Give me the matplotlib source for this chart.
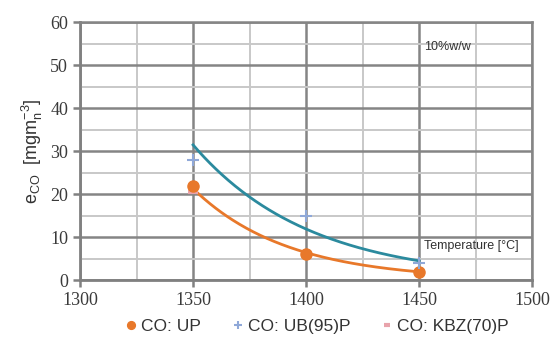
import matplotlib.pyplot as plt
import numpy as np

# ==================================================
# DATA
# ==================================================

temperature = [1350, 1400, 1450]

co_up = [22, 6, 2]
co_ub95p = [28, 15, 4]
co_kbz70p = [20.5, 5.8, 1.9]

x_ticks = [1300, 1350, 1400, 1450, 1500]
y_ticks = [0, 10, 20, 30, 40, 50, 60]

ORANGE = "#E8782A"
TEAL = "#2B8A9E"
BLUE = "#8FA8D8"
PINK = "#E8A3AB"


def exp_trend(x, y):
    """
    Exponential trend line (least squares on log values).
    """
    coef = np.polyfit(x, np.log(y), 1)
    xs = np.linspace(min(x), max(x), 200)
    return xs, np.exp(np.polyval(coef, xs))


# ==================================================
# FIGURE
# ==================================================

fig = plt.figure(figsize=(5.52, 3.4), dpi=100)
ax = fig.add_axes([0.145, 0.176, 0.819, 0.759])

ax.set_xlim(1300, 1500)
ax.set_ylim(0, 60)
ax.set_xticks(x_ticks)
ax.set_yticks(y_ticks)
ax.set_xticks(np.arange(1300, 1501, 25), minor=True)
ax.set_yticks(np.arange(0, 61, 5), minor=True)

ax.grid(which="major", color="#858585", linewidth=1.8, zorder=0)
ax.grid(which="minor", color="#c8c8c8", linewidth=1.4, zorder=0)
ax.set_axisbelow(True)

for side in ["top", "right"]:
    ax.spines[side].set_color("#858585")
    ax.spines[side].set_linewidth(1.8)
for side in ["left", "bottom"]:
    ax.spines[side].set_color("#808080")
    ax.spines[side].set_linewidth(2)

ax.tick_params(which="major", direction="out", length=5, width=1.8,
               color="#808080", labelsize=13, labelcolor="#3a3a3a")
ax.tick_params(which="minor", length=0)
for lbl in ax.get_xticklabels() + ax.get_yticklabels():
    lbl.set_family("Liberation Serif")

ax.set_ylabel(r"e$_{\mathregular{CO}}$  [mgm$_{\mathregular{n}}^{\mathregular{-3}}$]",
              family="Liberation Sans", fontsize=13, color="#333333")

# trend lines
xs, ys = exp_trend(temperature, co_ub95p)
ax.plot(xs, ys, color=TEAL, linewidth=2, zorder=3)
xs, ys = exp_trend(temperature, co_up)
ax.plot(xs, ys, color=ORANGE, linewidth=2, zorder=3)

# points
ax.plot(temperature, co_kbz70p, linestyle="none", marker="_",
        markersize=7, markeredgewidth=3, color=PINK, zorder=4,
        label="CO: KBZ(70)P")
ax.plot(temperature, co_up, linestyle="none", marker="o",
        markersize=8, color=ORANGE, zorder=5, label="CO: UP")
ax.plot(temperature, co_ub95p, linestyle="none", marker="+",
        markersize=8, markeredgewidth=1.5, color=BLUE, zorder=6,
        label="CO: UB(95)P")

ax.text(1452, 54.2, "10%w/w", family="Liberation Sans", fontsize=9,
        color="#333333", va="center", ha="left")
ax.text(1452, 8.0, "Temperature [°C]", family="Liberation Sans",
        fontsize=9, color="#333333", va="center", ha="left")

handles, labels = ax.get_legend_handles_labels()
order = [1, 2, 0]
leg = fig.legend([handles[i] for i in order], [labels[i] for i in order],
                 loc="center", bbox_to_anchor=(0.575, 0.04), ncol=3,
                 frameon=False, prop={"family": "Liberation Sans", "size": 12.5},
                 handlelength=0.6, handletextpad=0.3, columnspacing=1.8,
                 markerscale=0.7)
for t in leg.get_texts():
    t.set_color("#333333")

fig.savefig("out.png", dpi=100)
